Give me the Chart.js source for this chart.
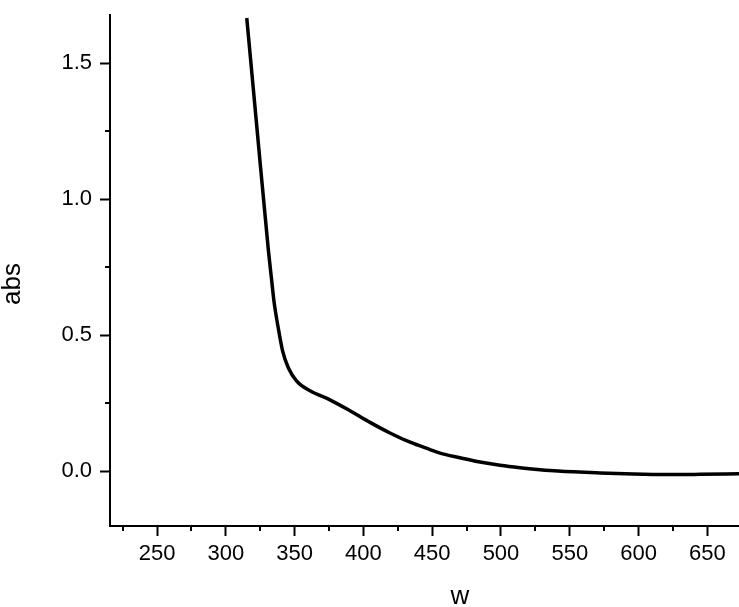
<!DOCTYPE html>
<html>
<head>
<meta charset="utf-8">
<script src="https://cdn.jsdelivr.net/npm/chart.js@4/dist/chart.umd.min.js"></script>
<style>
  html, body { margin: 0; padding: 0; background: #fff; }
  #wrap { width: 739px; height: 607px; }
</style>
</head>
<body>
<div id="wrap"><canvas id="absChart" width="739" height="607"></canvas></div>
<script>
// spectrum
const wavelength = [315.2, 322.9, 330.9, 333.4, 335, 338.1, 341.3, 345.4, 351.5, 361.2, 375.7, 390.2, 404.8, 419.3, 433.9, 448.4, 455.7, 470.2, 484.7, 499.3, 513.8, 528.3, 541.4, 571.9, 596.2, 620.4, 644.6, 673];
const absorbance = [1.666, 1.245, 0.813, 0.697, 0.624, 0.526, 0.441, 0.380, 0.331, 0.295, 0.262, 0.222, 0.179, 0.140, 0.106, 0.079, 0.066, 0.049, 0.033, 0.021, 0.012, 0.005, 0.000, -0.007, -0.011, -0.013, -0.012, -0.010];

const xMajorTicks = [250, 300, 350, 400, 450, 500, 550, 600, 650];
const xMinorTicks = [225, 275, 325, 375, 425, 475, 525, 575, 625];
const yMajorTicks = [0, 0.5, 1.0, 1.5];
const yMinorTicks = [0.25, 0.75, 1.25];

const xTitle = 'w';
const yTitle = 'abs';

const points = wavelength.map((w, i) => ({ x: w, y: absorbance[i] }));

// minor ticks + axis titles (Origin-style)
const extras = {
  id: 'extras',
  afterDraw(chart) {
    const ctx = chart.ctx;
    const xs = chart.scales.x, ys = chart.scales.y;
    const area = chart.chartArea;
    ctx.save();
    ctx.strokeStyle = '#000';
    ctx.lineWidth = 2;
    ctx.beginPath();
    xMinorTicks.forEach(v => {
      const px = Math.round(xs.getPixelForValue(v));
      ctx.moveTo(px, area.bottom);
      ctx.lineTo(px, area.bottom + 5);
    });
    yMinorTicks.forEach(v => {
      const py = Math.round(ys.getPixelForValue(v));
      ctx.moveTo(area.left - 5, py);
      ctx.lineTo(area.left, py);
    });
    ctx.stroke();

    ctx.fillStyle = '#000';
    ctx.font = '26px "Liberation Sans", Arial, sans-serif';
    ctx.textAlign = 'center';
    ctx.textBaseline = 'alphabetic';
    ctx.fillText(xTitle, 460, 604);
    ctx.translate(20, 284);
    ctx.rotate(-Math.PI / 2);
    ctx.fillText(yTitle, 0, 0);
    ctx.restore();
  }
};

const tickFont = { family: '"Liberation Sans", Arial, sans-serif', size: 22 };

new Chart(document.getElementById('absChart'), {
  type: 'line',
  data: {
    datasets: [{
      data: points,
      borderColor: '#000',
      borderWidth: 3.5,
      pointRadius: 0,
      fill: false,
      cubicInterpolationMode: 'monotone'
    }]
  },
  options: {
    responsive: false,
    animation: false,
    devicePixelRatio: 1,
    layout: { padding: { top: 15, left: 0, right: 0, bottom: 0 } },
    plugins: { legend: { display: false }, tooltip: { enabled: false } },
    scales: {
      x: {
        type: 'linear',
        min: 215.8,
        max: 673,
        afterBuildTicks: s => { s.ticks = xMajorTicks.map(v => ({ value: v })); },
        afterFit: s => { s.height = 81; s.paddingLeft = 0; s.paddingRight = 0; },
        border: { color: '#000', width: 2 },
        grid: { drawOnChartArea: false, drawTicks: true, tickLength: 10, tickColor: '#000', tickWidth: 2 },
        ticks: { color: '#000', font: tickFont, padding: 5, maxRotation: 0, autoSkip: false }
      },
      y: {
        min: -0.202,
        max: 1.677,
        afterBuildTicks: s => { s.ticks = yMajorTicks.map(v => ({ value: v })); },
        afterFit: s => { s.width = 110; s.paddingTop = 0; s.paddingBottom = 0; },
        border: { color: '#000', width: 2 },
        grid: { drawOnChartArea: false, drawTicks: true, tickLength: 10, tickColor: '#000', tickWidth: 2 },
        ticks: { color: '#000', font: tickFont, padding: 8, autoSkip: false, callback: v => v.toFixed(1) }
      }
    }
  },
  plugins: [extras]
});
</script>
</body>
</html>
